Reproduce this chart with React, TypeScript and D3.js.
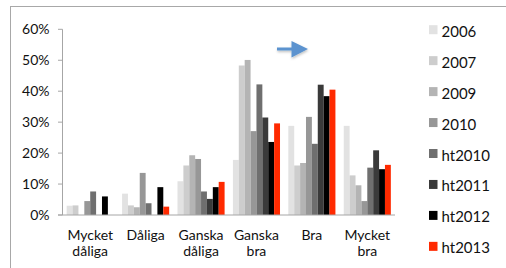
import React from "react";
import * as d3 from "d3";

const categories = ["Mycket\ndåliga", "Dåliga", "Ganska\ndåliga", "Ganska\nbra", "Bra", "Mycket\nbra"];
const seriesNames = ["2006", "2007", "2009", "2010", "ht2010", "ht2011", "ht2012", "ht2013"];
const seriesColors = ["#e2e2e2", "#cdcdcd", "#b4b4b4", "#979797", "#6f6f6f", "#3a3a3a", "#000000", "#ff2a00"];

// värden per serie (andel), ordnade som categories
const v2006 = [0.03, 0.069, 0.109, 0.178, 0.288, 0.288];
const v2007 = [0.031, 0.031, 0.16, 0.483, 0.16, 0.128];
const v2009 = [0, 0.025, 0.193, 0.501, 0.168, 0.096];
const v2010 = [0.045, 0.136, 0.181, 0.271, 0.317, 0.045];
const vht2010 = [0.076, 0.038, 0.076, 0.422, 0.23, 0.153];
const vht2011 = [0, 0, 0.052, 0.315, 0.421, 0.209];
const vht2012 = [0.06, 0.09, 0.09, 0.236, 0.384, 0.148];
const vht2013 = [0, 0.027, 0.107, 0.296, 0.405, 0.162];
const seriesValues = [v2006, v2007, v2009, v2010, vht2010, vht2011, vht2012, vht2013];

const yTicks = [0, 0.1, 0.2, 0.3, 0.4, 0.5, 0.6];

const W = 506;
const H = 268;
const FONT = "Lato, 'Open Sans', sans-serif";

const App: React.FC = () => {
  const left = 62.5;
  const right = 395;
  const y0 = 215;
  const yTop = 29.3;

  const x = d3.scaleBand<number>()
    .domain(d3.range(categories.length))
    .range([left, right])
    .paddingInner(0.15)
    .paddingOuter(0.075);
  const xs = d3.scaleBand<number>()
    .domain(d3.range(seriesNames.length))
    .range([0, x.bandwidth()]);
  const y = d3.scaleLinear().domain([0, 0.6]).range([y0, yTop]);
  const fmt = d3.format(".0%");

  const step = x.step();

  return (
    <svg width={W} height={H} style={{ position: "absolute", left: 0, top: 0 }}>
      <rect x={0} y={0} width={W} height={H} fill="#fff" />
      {/* diagramram */}
      <rect x={10.5} y={6.5} width={W + 20} height={H + 20} fill="none" stroke="#a8a8a8" strokeWidth={1} />

      {/* y-axel */}
      <line x1={left} x2={left} y1={yTop} y2={y0} stroke="#a6a6a6" />
      {yTicks.map((t) => (
        <g key={t}>
          <line x1={left - 4.5} x2={left} y1={y(t)} y2={y(t)} stroke="#a6a6a6" />
          <text x={49.5} y={y(t) + 5} textAnchor="end" fontFamily={FONT} fontSize={14} fill="#111">
            {fmt(t)}
          </text>
        </g>
      ))}

      {/* staplar */}
      {seriesValues.map((vals, si) =>
        vals.map((v, ci) =>
          v > 0 ? (
            <rect
              key={`${si}-${ci}`}
              x={(x(ci) ?? 0) + (xs(si) ?? 0)}
              y={y(v)}
              width={xs.bandwidth()}
              height={y0 - y(v)}
              fill={seriesColors[si]}
            />
          ) : null
        )
      )}

      {/* x-axel */}
      <line x1={left - 4.5} x2={right} y1={y0} y2={y0} stroke="#a6a6a6" />

      {categories.map((c, ci) => {
        const cx = left + step * ci + step / 2;
        return (
          <text key={c} textAnchor="middle" fontFamily={FONT} fontSize={14} fill="#111">
            {c.split("\n").map((line, li) => (
              <tspan key={li} x={cx} y={240 + li * 16}>
                {line}
              </tspan>
            ))}
          </text>
        );
      })}

      {/* pil */}
      <defs>
        <filter id="sh" x="-20%" y="-20%" width="150%" height="160%">
          <feDropShadow dx={0.5} dy={1.5} stdDeviation={1} floodColor="#000" floodOpacity={0.25} />
        </filter>
      </defs>
      <path
        d="M277,47.6 L291.5,47.6 L291.5,41 L308,49 L291.5,57.5 L291.5,50.6 L277,50.6 Z"
        fill="#5b93cf"
        filter="url(#sh)"
      />

      {/* förklaring */}
      {seriesNames.map((s, i) => {
        const base = 36.7 + i * 30.95;
        return (
          <g key={s}>
            <rect x={429} y={base - 11.5} width={8.5} height={9} fill={seriesColors[i]} />
            <text x={441.5} y={base} fontFamily={FONT} fontSize={15} fill="#111">
              {s}
            </text>
          </g>
        );
      })}
    </svg>
  );
};

export default App;
